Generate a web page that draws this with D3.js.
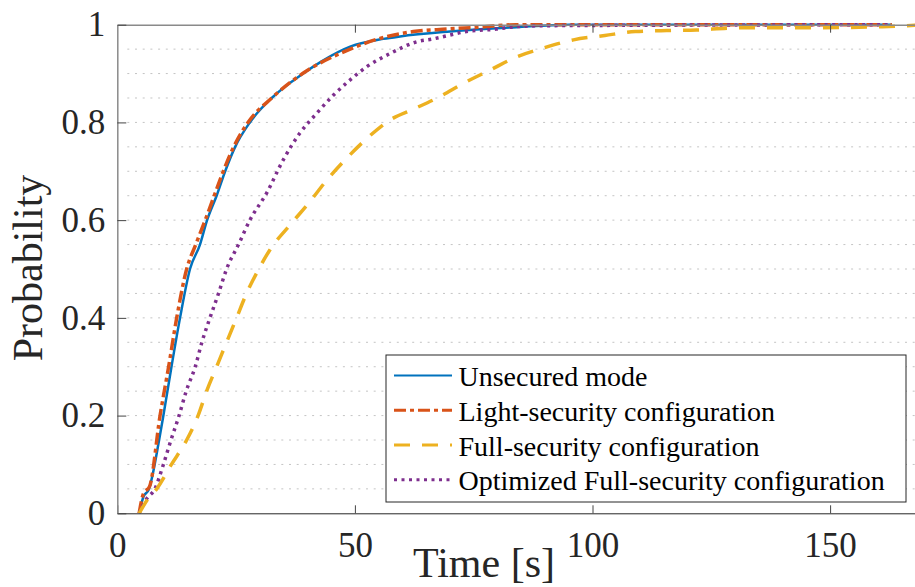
<!DOCTYPE html>
<html>
<head>
<meta charset="utf-8">
<script src="https://cdn.jsdelivr.net/npm/d3@7"></script>
<style>
  body { margin: 0; background: #fff; }
  svg { display: block; }
  svg text { font-family: 'Liberation Serif', serif; }
</style>
</head>
<body>
<main></main>
<script>
const seriesNames = [
  'Unsecured mode',
  'Light-security configuration',
  'Full-security configuration',
  'Optimized Full-security configuration',
];

const unsecuredTime = [4.6, 5.5, 6.6, 8.8, 9.7, 11.4, 13.2, 15.3, 17.4, 18.9, 20.9, 22.7, 24.8, 27.9, 32.5, 39.1, 43, 49, 56, 59.5, 70, 84, 95, 163];
const unsecuredProb = [0, 0.034, 0.048, 0.15, 0.2, 0.3, 0.4, 0.5, 0.55, 0.6, 0.65, 0.7, 0.75, 0.8, 0.85, 0.9, 0.925, 0.955, 0.971, 0.976, 0.986, 0.995, 1, 1];

const lightTime = [4.6, 5.5, 6.8, 9.0, 10.8, 12.5, 14.6, 16.5, 18.5, 20.4, 22.3, 24.5, 27.5, 32.5, 39, 49, 55.3, 62.3, 69.3, 76.3, 84, 163];
const lightProb = [0, 0.04, 0.055, 0.2, 0.3, 0.4, 0.5, 0.55, 0.6, 0.65, 0.7, 0.75, 0.8, 0.85, 0.9, 0.95, 0.972, 0.986, 0.991, 0.995, 1, 1];

const fullTime = [4.6, 6.5, 8.3, 11.4, 14.6, 17, 18.8, 20.9, 23, 25.1, 27.2, 29.5, 32.1, 36.7, 40.2, 44.1, 48.3, 52.5, 57.4, 62.3, 67.9, 72.8, 78.4, 84, 89.6, 96, 102.6, 109, 115.6, 121.9, 128.5, 135, 148, 161, 170];
const fullProb = [0, 0.03, 0.05, 0.1, 0.15, 0.2, 0.25, 0.3, 0.35, 0.4, 0.45, 0.495, 0.539, 0.594, 0.634, 0.682, 0.727, 0.767, 0.805, 0.827, 0.853, 0.88, 0.907, 0.934, 0.952, 0.969, 0.978, 0.986, 0.988, 0.989, 0.993, 0.994, 0.994, 0.996, 1];

const optTime = [4.6, 6.2, 7.9, 9.7, 11.3, 13, 14.5, 16.4, 17.8, 19.5, 21.3, 23, 25.5, 27.9, 31.4, 34.9, 38.4, 42, 45.5, 49, 52.5, 57.4, 63, 66.5, 73.5, 79.8, 84, 90.4, 163];
const optProb = [0, 0.03, 0.05, 0.1, 0.15, 0.2, 0.25, 0.3, 0.35, 0.4, 0.45, 0.5, 0.55, 0.6, 0.655, 0.723, 0.778, 0.819, 0.856, 0.887, 0.914, 0.941, 0.965, 0.971, 0.986, 0.991, 0.996, 0.998, 1];

const xTicks = [0, 50, 100, 150];
const yTicks = [0, 0.2, 0.4, 0.6, 0.8, 1];
const yGrid = d3.range(1, 20).map(i => i / 20);

const colors = ['#0072BD', '#D95319', '#EDB120', '#7E2F8E'];
const dashes = [null, '12,4,4,4', '16,12', '3,4.5'];
const widths = [2.5, 3.5, 3.5, 3.5];

const series = [
  [unsecuredTime, unsecuredProb],
  [lightTime, lightProb],
  [fullTime, fullProb],
  [optTime, optProb],
].map(([ts, ps], i) => ({
  name: seriesNames[i],
  values: ts.map((t, j) => ({ t, p: ps[j] })),
}));

const width = 915;
const height = 587;
const plot = { left: 117.3, top: 24.7, bottom: 513.3 };

const xScale = d3.scaleLinear().domain([0, 170]).range([plot.left, plot.left + 170 * 4.752]);
const yScale = d3.scaleLinear().domain([0, 1]).range([plot.bottom, plot.top]);

const svg = d3
  .select('main')
  .append('svg')
  .attr('width', width)
  .attr('height', height);

svg.append('defs')
  .append('clipPath')
  .attr('id', 'clip')
  .append('rect')
  .attr('x', plot.left)
  .attr('y', plot.top - 4)
  .attr('width', width - plot.left)
  .attr('height', plot.bottom - plot.top + 4);

// dotted horizontal grid
svg.append('g')
  .selectAll('line')
  .data(yGrid)
  .join('line')
  .attr('x1', plot.left + 10)
  .attr('x2', width)
  .attr('y1', d => yScale(d))
  .attr('y2', d => yScale(d))
  .attr('stroke', '#c4c4c4')
  .attr('stroke-width', 1)
  .attr('stroke-dasharray', '2,5.7');

const line = d3
  .line()
  .x(d => xScale(d.t))
  .y(d => yScale(d.p))
  .curve(d3.curveMonotoneX);

const lines = svg.append('g').attr('clip-path', 'url(#clip)');
[0, 1, 3, 2].forEach(i => {
  lines.append('path')
    .attr('d', line(series[i].values))
    .attr('fill', 'none')
    .attr('stroke', colors[i])
    .attr('stroke-width', widths[i])
    .attr('stroke-dasharray', dashes[i]);
});

const xAxis = d3.axisBottom(xScale).tickValues(xTicks).tickSizeInner(-8).tickSizeOuter(0).tickPadding(19);
const yAxis = d3.axisLeft(yScale).tickValues(yTicks).tickSizeInner(-9).tickSizeOuter(0).tickPadding(12).tickFormat(d3.format('~g'));
const topAxis = d3.axisTop(xScale).tickValues(xTicks.slice(1)).tickSizeInner(-8).tickSizeOuter(0).tickFormat('');

const xg = svg.append('g').attr('transform', `translate(0,${plot.bottom})`).call(xAxis);
const tg = svg.append('g').attr('transform', `translate(0,${plot.top})`).call(topAxis);
const yg = svg.append('g').attr('transform', `translate(${plot.left},0)`).call(yAxis);

[xg, yg].forEach(g => {
  g.attr('font-family', null).attr('font-size', null);
  g.selectAll('text')
    .attr('font-size', 35)
    .attr('fill', '#262626');
});
xg.select('.domain').attr('stroke', '#262626');
tg.select('.domain').attr('stroke', '#8a8a8a').attr('stroke-width', 1.5);
yg.select('.domain').attr('stroke', '#8a8a8a').attr('stroke-width', 1.5);
[xg, tg, yg].forEach(g => g.selectAll('.tick line').attr('stroke', '#444'));

svg.append('text')
  .attr('x', 484)
  .attr('y', 577)
  .attr('text-anchor', 'middle')
  .attr('font-size', 42)
  .attr('fill', '#262626')
  .text('Time [s]');

svg.append('text')
  .attr('transform', 'translate(41.7,268) rotate(-90)')
  .attr('text-anchor', 'middle')
  .attr('font-size', 42)
  .attr('fill', '#262626')
  .text('Probability');

// legend
const legend = svg.append('g').attr('transform', 'translate(386,355)');
legend.append('rect')
  .attr('width', 520)
  .attr('height', 147)
  .attr('fill', '#fff')
  .attr('stroke', '#262626')
  .attr('stroke-width', 1);

series.forEach((s, i) => {
  const y = 20.6 + i * 34.7;
  legend.append('line')
    .attr('x1', 8)
    .attr('x2', 66)
    .attr('y1', y)
    .attr('y2', y)
    .attr('stroke', colors[i])
    .attr('stroke-width', widths[i] - 0.5)
    .attr('stroke-dasharray', dashes[i]);
  legend.append('text')
    .attr('x', 72.5)
    .attr('y', y + 10.5)
    .attr('font-size', 28)
    .attr('fill', '#000')
    .text(s.name);
});
</script>
</body>
</html>
